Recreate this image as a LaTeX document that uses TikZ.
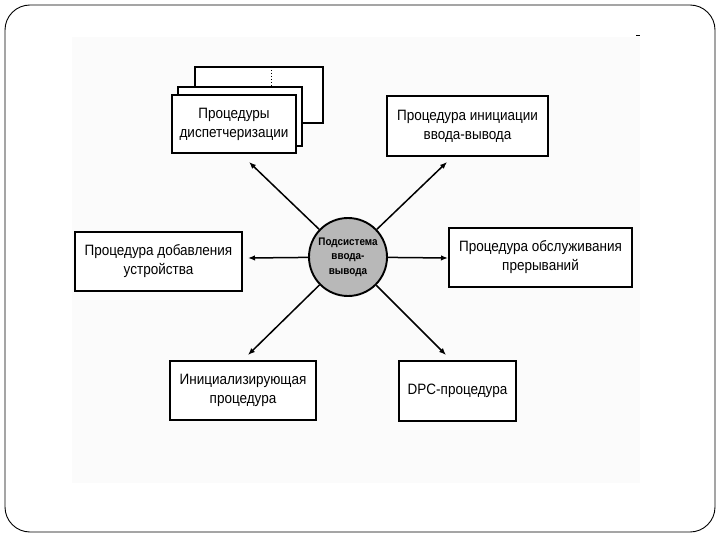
\documentclass[tikz,border=0pt]{standalone}
\usepackage{fontspec}
\setmainfont{Liberation Sans}
\newfontfamily\boxfont[FakeStretch=0.9]{Liberation Sans}
\usetikzlibrary{arrows.meta}
\begin{document}
\begin{tikzpicture}[x=1pt,y=-1pt,
  procbox/.style={draw, line width=1.9pt, fill=white, align=center,
    font=\boxfont\fontsize{15}{19}\selectfont, inner sep=0pt},
  hub/.style={circle, draw, line width=1.9pt, fill=black!28, align=center,
    font=\boxfont\bfseries\fontsize{11}{14.5}\selectfont, inner sep=0pt, minimum size=78pt},
  arr/.style={line width=1.5pt, -{Latex[length=7pt,width=5.5pt]}}]
\useasboundingbox (0,0) rectangle (720,540);
% frame and background
\draw[line width=0.9pt, rounded corners=25pt] (5,5) rectangle (715,532);
\fill[black!1.5] (72,37) rectangle (640,483);
\draw[line width=1pt] (636,36) -- (640,36);
% stacked boxes
\node[procbox, minimum width=128pt, minimum height=56pt] (dispC) at (259,95) {};
\draw[line width=1pt, dash pattern=on 1.2pt off 1.8pt] (271,70) -- (271,86);
\node[procbox, minimum width=124pt, minimum height=59pt] (dispB) at (240,116.5) {};
\node[procbox, minimum width=124pt, minimum height=58pt] (disp) at (234,124) {Процедуры\\диспетчеризации};
% other boxes
\node[procbox, minimum width=161pt, minimum height=60pt] (init) at (467.5,126) {Процедура инициации\\ввода-вывода};
\node[procbox, minimum width=167pt, minimum height=59pt] (add) at (158.5,261.5) {Процедура добавления\\устройства};
\node[procbox, minimum width=183pt, minimum height=59pt] (intr) at (540.5,257.5) {Процедура обслуживания\\прерываний};
\node[procbox, minimum width=146pt, minimum height=59pt] (inizi) at (243,390.5) {Инициализирующая\\процедура};
\node[procbox, minimum width=117pt, minimum height=60pt] (dpc) at (457.5,391) {DPC-процедура};
% hub
\node[hub] (c) at (348,257) {Подсистема\\ввода-\\вывода};
% arrow ends
\coordinate (tNW) at (249,162);
\coordinate (tNE) at (447,162);
\coordinate (tW) at (248,258);
\coordinate (tE) at (448,258);
\coordinate (tSW) at (248,355);
\coordinate (tSE) at (446,355);
\draw[arr] (c) -- (tNW);
\draw[arr] (c) -- (tNE);
\draw[arr] (c) -- (tW);
\draw[arr] (c) -- (tE);
\draw[arr] (c) -- (tSW);
\draw[arr] (c) -- (tSE);
\end{tikzpicture}
\end{document}
